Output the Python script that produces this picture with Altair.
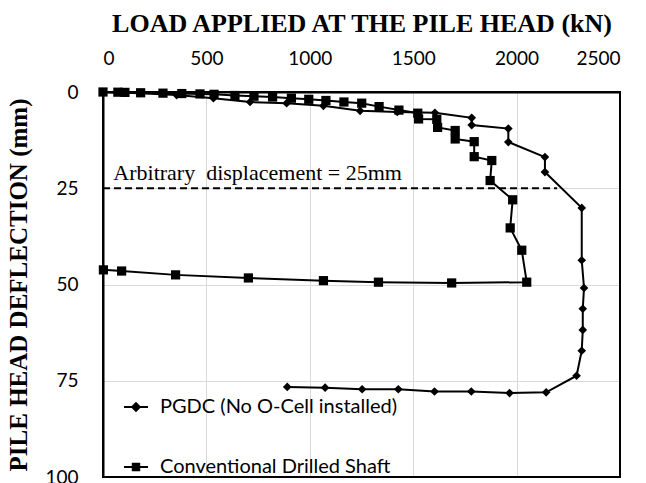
import altair as alt
import pandas as pd

S1 = "PGDC (No O-Cell installed)"
S2 = "Conventional Drilled Shaft"
series = [S1, S2]

pgdc_load = [0, 178, 356, 534, 711, 888, 1066, 1243, 1423, 1605, 1783, 1783, 1960, 1960,
             2137, 2137, 2315, 2315, 2326, 2320, 2320, 2315, 2290, 2143, 1966, 1781, 1603,
             1428, 1253, 1074, 891]
pgdc_defl = [0, 0.3, 0.8, 1.6, 2.6, 2.9, 3.6, 4.9, 5.2, 5.4, 6.7, 8.6, 9.5, 13.0,
             16.9, 20.8, 30.1, 43.7, 50.9, 56.3, 61.8, 67.2, 73.7, 78.0, 78.2, 77.8, 77.8,
             77.2, 77.2, 76.8, 76.6]

cds_load = [0, 72, 106, 182, 290, 381, 469, 537, 638, 730, 820, 911, 995, 1078, 1165,
            1251, 1335, 1431, 1522, 1526, 1614, 1618, 1703, 1703, 1795, 1795, 1880, 1872,
            1981, 1969, 2025, 2049, 1686, 1332, 1066, 703, 351, 90, 2]
cds_defl = [0, 0.05, 0.1, 0.2, 0.3, 0.4, 0.5, 0.6, 0.9, 1.1, 1.3, 1.6, 1.9, 2.2, 2.6,
            2.9, 3.8, 4.7, 5.5, 7.0, 7.1, 9.2, 10.0, 12.2, 12.9, 16.8, 17.8, 23.0,
            28.0, 35.3, 41.1, 49.4, 49.6, 49.4, 49.0, 48.3, 47.5, 46.5, 46.2]

x_ticks = [0, 500, 1000, 1500, 2000, 2500]
y_ticks = [0, 25, 50, 75, 100]

ann_text = ["Arbitrary\u00a0 displacement = 25mm"]
ann_x = [50]
ann_y = [22.9]
ref_y = [25]
ref_x0 = [0]
ref_x1 = [2196]

frame_x = [0, 2500]
frame_y = [0, 100]

W, H = 517, 385

rows = []
for name, xs, ys in [(S1, pgdc_load, pgdc_defl), (S2, cds_load, cds_defl)]:
    for i, (a, b) in enumerate(zip(xs, ys)):
        rows.append({"load": a, "defl": b, "series": name, "i": i})
df = pd.DataFrame(rows)

x_enc = alt.X("load:Q", scale=alt.Scale(domain=[0, 2500], nice=False),
              axis=alt.Axis(orient="top", values=x_ticks, format="d",
                            title="LOAD APPLIED AT THE PILE HEAD (kN)",
                            titleFont="Liberation Serif", titleFontSize=26, titleFontWeight="bold",
                            titleColor="black", titlePadding=13,
                            labelFont="Lato", labelFontSize=19, labelColor="black",
                            labelPadding=24, ticks=False,
                            domain=True, domainColor="black", domainWidth=2,
                            grid=True, gridColor="#d9d9d9", gridWidth=1))
y_enc = alt.Y("defl:Q", scale=alt.Scale(domain=[0, 100], reverse=True, nice=False),
              axis=alt.Axis(values=y_ticks, format="d", title="PILE HEAD DEFLECTION (mm)",
                            titleFont="Liberation Serif", titleFontSize=25, titleFontWeight="bold",
                            titleColor="black", titlePadding=13,
                            labelFont="Lato", labelFontSize=19, labelColor="black",
                            labelPadding=25, ticks=False,
                            domain=True, domainColor="black", domainWidth=2,
                            grid=True, gridColor="#d9d9d9", gridWidth=1))

lines = alt.Chart(df).mark_line(color="black", strokeWidth=2).encode(
    x=x_enc, y=y_enc, detail="series:N", order="i:Q")

points = alt.Chart(df).mark_point(filled=True, color="black", opacity=1).encode(
    x="load:Q", y="defl:Q",
    shape=alt.Shape("series:N", scale=alt.Scale(domain=series, range=["diamond", "square"]), legend=None),
    size=alt.Size("series:N", scale=alt.Scale(domain=series, range=[75, 85]), legend=None))

path1 = ("M-1,0L1,0M0,-0.32L0.32,0L0,0.32L-0.32,0Z"
         "M0,-0.16L0.16,0L0,0.16L-0.16,0Z")
path2 = ("M-1,0L1,0M-0.27,-0.27L0.27,-0.27L0.27,0.27L-0.27,0.27Z"
         "M-0.13,-0.13L0.13,-0.13L0.13,0.13L-0.13,0.13Z")
legend_layer = alt.Chart(df).mark_point(filled=False, color="black", stroke="black",
                                        strokeWidth=2, opacity=0).encode(
    x="load:Q", y="defl:Q",
    shape=alt.Shape("series:N", scale=alt.Scale(domain=series, range=[path1, path2]),
                    legend=alt.Legend(title=None, orient="none", legendX=20, legendY=302,
                                      direction="vertical", labelFont="Lato", labelFontSize=20,
                                      labelColor="black", rowPadding=37, symbolSize=576,
                                      labelLimit=0, labelOffset=11, padding=0,
                                      symbolOpacity=1, symbolStrokeWidth=2,
                                      symbolStrokeColor="black")))

ref_df = pd.DataFrame({"y": ref_y, "x0": ref_x0, "x1": ref_x1})
rule = alt.Chart(ref_df).mark_rule(color="black", strokeWidth=2, strokeDash=[7, 4]).encode(
    x="x0:Q", x2="x1:Q", y="y:Q")

ann_df = pd.DataFrame({"t": ann_text, "x": ann_x, "y": ann_y})
ann = alt.Chart(ann_df).mark_text(font="Liberation Serif", fontSize=22, align="left",
                                  baseline="alphabetic", color="black").encode(
    x="x:Q", y="y:Q", text="t:N")

frame_df = pd.DataFrame({"x0": [frame_x[0]], "x1": [frame_x[1]],
                         "y0": [frame_y[0]], "y1": [frame_y[1]]})
frame = alt.Chart(frame_df).mark_rect(fillOpacity=0, stroke="black", strokeWidth=2,
                                      strokeOpacity=1).encode(
    x="x0:Q", x2="x1:Q", y="y0:Q", y2="y1:Q")

chart = alt.layer(rule, lines, points, legend_layer, ann, frame).resolve_scale(
    shape="independent", size="independent"
).properties(
    width=W, height=H,
    autosize=alt.AutoSizeParams(type="none"),
    padding={"left": 95, "top": 84, "right": 18, "bottom": 10},
    background="white",
).configure_view(stroke="black", strokeWidth=2)

chart.save("out.html", embed_options={"renderer": "svg", "actions": False})
